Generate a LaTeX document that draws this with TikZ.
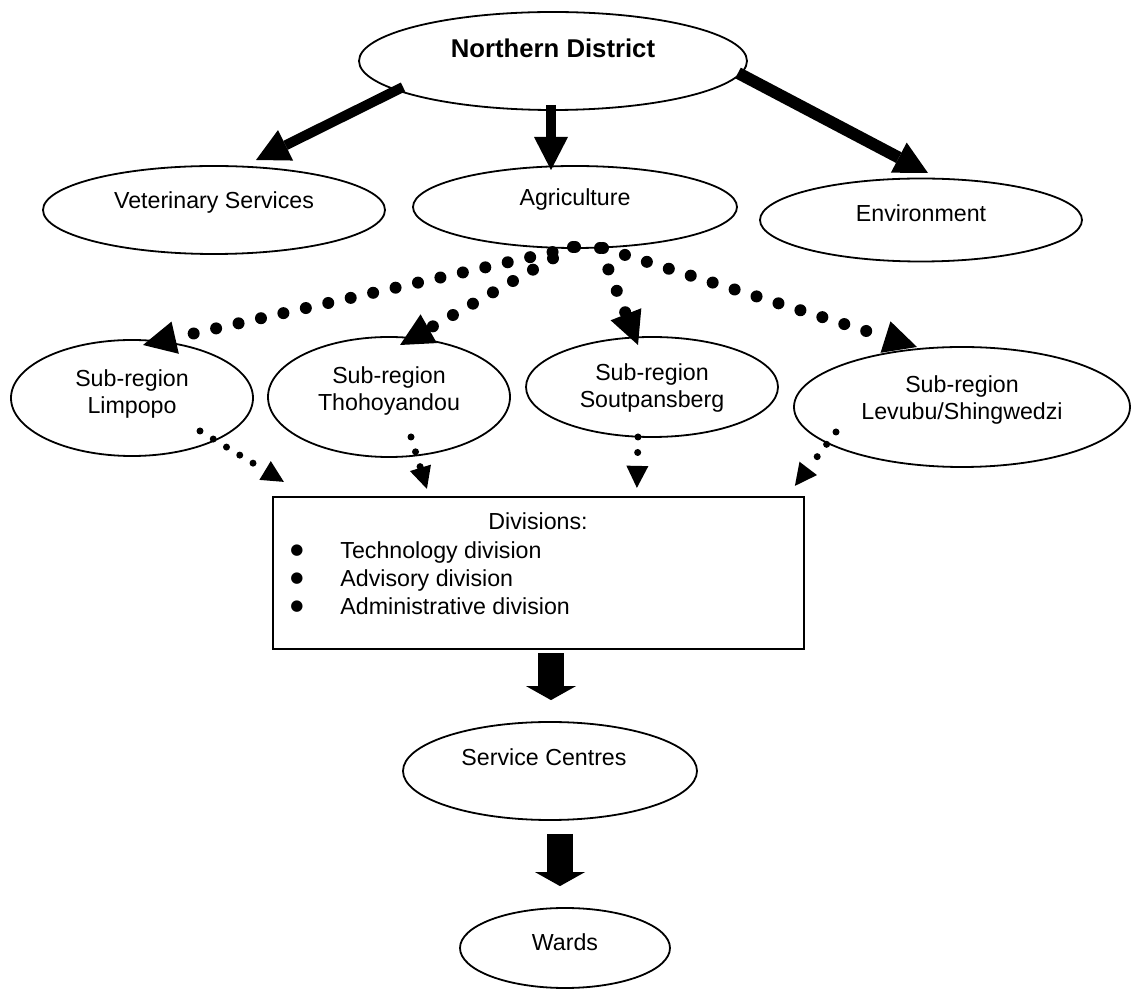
\documentclass[tikz,border=0pt]{standalone}
\usepackage{fontspec}
\setmainfont{Liberation Sans}
\newfontfamily\dotfont{DejaVu Sans}
\usetikzlibrary{shapes.geometric,arrows.meta,calc}
\begin{document}
\begin{tikzpicture}[x=0.5pt,y=-0.5pt,
  oval/.style={draw, ellipse, line width=0.9pt, inner sep=0pt},
  lbl/.style={font=\fontsize{11.6pt}{13.5pt}\selectfont, align=center, inner sep=0pt},
  ttl/.style={font=\fontsize{12.85pt}{15pt}\selectfont\bfseries, inner sep=0pt},
  bullet/.style={font=\dotfont\fontsize{7.5pt}{8pt}\selectfont, inner sep=0pt},
  bigarrow/.style={line width=5pt, -{Triangle[length=16.5pt,width=17pt,line width=0pt]}},
  dotline/.style={line width=6pt, line cap=round, dash pattern=on 0pt off 11.5pt,
    -{Triangle[length=16.5pt,width=16.5pt,line width=0pt]}},
  smalldot/.style={line width=3.5pt, line cap=round, dash pattern=on 0pt off 7.75pt,
    -{Triangle[length=11pt,width=11pt,line width=0pt]}},
  blockarrow/.style={line width=13pt, -{Triangle[length=7pt,width=25pt,line width=0pt]}},
]
\useasboundingbox (0,0) rectangle (1132,989);

% top level
\node[oval, minimum width=194pt, minimum height=49pt] (nd) at (553,61) {};
\node[ttl] (ndT) at (553,48) {Northern District};

% departments
\node[oval, minimum width=171pt, minimum height=44pt] (vet) at (214,210) {};
\node[lbl] (vetT) at (214,203) {Veterinary Services};
\node[oval, minimum width=162pt, minimum height=41pt] (agr) at (575,207) {};
\node[lbl] (agrT) at (575,200) {Agriculture};
\node[oval, minimum width=161pt, minimum height=41.5pt] (env) at (921,220) {};
\node[lbl] (envT) at (921,213) {Environment};

% sub-regions
\node[oval, minimum width=121pt, minimum height=58pt] (lim) at (132,398) {};
\node[lbl] (limT) at (132,394) {Sub-region\\Limpopo};
\node[oval, minimum width=121pt, minimum height=60pt] (tho) at (389,397) {};
\node[lbl] (thoT) at (389,391) {Sub-region\\Thohoyandou};
\node[oval, minimum width=126pt, minimum height=50pt] (sou) at (652,387) {};
\node[lbl] (souT) at (652,388) {Sub-region\\Soutpansberg};
\node[oval, minimum width=168pt, minimum height=60pt] (lev) at (962,407) {};
\node[lbl] (levT) at (962,400) {Sub-region\\Levubu/Shingwedzi};

% divisions box
\node[draw, line width=1.1pt, minimum width=265.5pt, minimum height=76pt, inner sep=0pt] (box) at (538.5,573) {};
\node[lbl, anchor=base] (divT) at (538,530) {Divisions:};
\node[bullet, anchor=base] (b1) at (297,555) {●};
\node[bullet, anchor=base] (b2) at (297,583) {●};
\node[bullet, anchor=base] (b3) at (297,611) {●};
\node[lbl, anchor=base west] (d1) at (340,559) {Technology division};
\node[lbl, anchor=base west] (d2) at (340,587) {Advisory division};
\node[lbl, anchor=base west] (d3) at (340,615) {Administrative division};

% lower levels
\node[oval, minimum width=147pt, minimum height=49pt] (svc) at (550,771) {};
\node[lbl] (svcT) at (544,757) {Service Centres};
\node[oval, minimum width=105pt, minimum height=40pt] (wards) at (565,948) {};
\node[lbl] (wardsT) at (565,942) {Wards};

% solid arrows from the district
\draw[bigarrow] ($(nd)+(-150,26)$) -- ($(vet)+(42,-50)$);
\draw[bigarrow] ($(nd)+(-2,44)$) -- ($(agr)+(-24,-37)$);
\draw[bigarrow, line width=6pt] ($(nd)+(185,12)$) -- ($(env)+(7,-47)$);

% dotted arrows from agriculture to the sub-regions
\draw[dotline] ($(agr)+(0,40)$) -- ($(lim)+(11,-53)$);
\draw[dotline] ($(agr)+(-2,40)$) -- ($(tho)+(11,-52)$);
\draw[dotline] ($(agr)+(25,41)$) -- ($(sou)+(-14,-42)$);
\draw[dotline] ($(agr)+(28,41)$) -- ($(lev)+(-45,-60)$);

% dotted arrows from the sub-regions to the divisions
\draw[smalldot] ($(lim)+(68,33)$) -- ($(box.north west)+(12,-14)$);
\draw[smalldot] ($(tho)+(22,40)$) -- ($(box.north west)+(155,-7)$);
\draw[smalldot] ($(sou)+(-14,50)$) -- ($(box.north west)+(365,-8)$);
\draw[smalldot] ($(lev)+(-126,25)$) -- ($(box.north west)+(523,-10)$);

% block arrows downwards
\draw[blockarrow] ($(box.south)+(12.5,3)$) -- ($(svc.north)+(1,-21)$);
\draw[blockarrow] ($(svc.south)+(10,13)$) -- ($(wards.north)+(-5,-21)$);
\end{tikzpicture}
\end{document}
